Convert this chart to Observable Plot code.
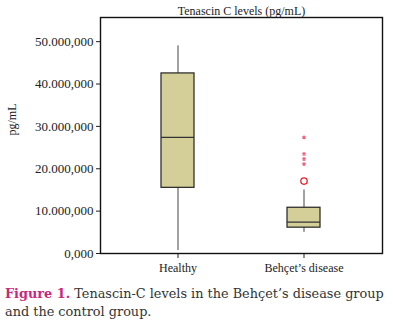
<!DOCTYPE html>
<html><head><meta charset="utf-8">
<script src="https://cdn.jsdelivr.net/npm/d3@7"></script>
<script src="https://cdn.jsdelivr.net/npm/@observablehq/plot@0.6"></script>
<style>
body{margin:0;background:#fff;}
#chart svg{display:block;}
#cap{font-family:"DejaVu Serif",serif;font-size:12.85px;line-height:18px;color:#333;margin:5px 0 0 5px;white-space:nowrap;}
#cap b{color:#c8287c;}
</style></head><body>
<div id="chart"></div>
<div id="cap"><b>Figure 1.</b> Tenascin-C levels in the Behçet’s disease group<br>and the control group.</div>
<script>
const groups = ["Healthy", "Behçet’s disease"];
const whiskerLow = [0.7e6, 5.0e6];
const q1 = [15.5e6, 6.1e6];
const median = [27.4e6, 7.4e6];
const q3 = [42.5e6, 10.8e6];
const whiskerHigh = [49.0e6, 15.0e6];
const outlierGroup = ["Behçet’s disease"];
const outlierValues = [17.1e6];
const extremeGroup = ["Behçet’s disease","Behçet’s disease","Behçet’s disease","Behçet’s disease"];
const extremeValues = [27.4e6, 23.5e6, 22.3e6, 21.1e6];
const tickValues = [0, 10e6, 20e6, 30e6, 40e6, 50e6];
const tickLabels = ["0,000","10.000,000","20.000,000","30.000,000","40.000,000","50.000,000"];

const boxes = groups.map((g,i)=>({g, lo:whiskerLow[i], q1:q1[i], med:median[i], q3:q3[i], hi:whiskerHigh[i]}));
const outliers = outlierValues.map((v,i)=>({g:outlierGroup[i], v}));
const extremes = extremeValues.map((v,i)=>({g:extremeGroup[i], v}));

const chart = Plot.plot({
  width: 393, height: 280,
  marginLeft: 100, marginRight: 11, marginTop: 17, marginBottom: 27,
  style: {fontFamily: "Liberation Serif, serif", fontSize: "13px", color: "#222"},
  x: {type: "band", domain: groups, paddingInner: 0.738, paddingOuter: 0.488, label: null},
  y: {domain: [0, 55.7e6], label: null},
  marks: [
    Plot.axisY({ticks: tickValues, tickFormat: (d)=>tickLabels[tickValues.indexOf(d)], tickSize: 4, tickPadding: 3, fontSize: 13, label: null}),
    Plot.axisX({tickSize: 5, tickPadding: 5, fontSize: 12, label: null}),
    Plot.ruleX(boxes, {x: "g", y1: "lo", y2: "q1", stroke: "#444"}),
    Plot.ruleX(boxes, {x: "g", y1: "q3", y2: "hi", stroke: "#444"}),
    Plot.barY(boxes, {x: "g", y1: "q1", y2: "q3", fill: "#d4cf99", stroke: "#222", strokeWidth: 1.2}),
    Plot.tickY(boxes, {x: "g", y: "med", stroke: "#333", strokeWidth: 1.2}),
    Plot.dot(outliers, {x: "g", y: "v", r: 3.2, stroke: "#e8202a", strokeWidth: 1.3, fill: "none"}),
    Plot.dot(extremes, {x: "g", y: "v", r: 1.8, symbol: "asterisk", stroke: "#f0607a", strokeWidth: 1.2}),
    Plot.frame({stroke: "#111", strokeWidth: 1.4}),
    Plot.text(["Tenascin C levels (pg/mL)"], {frameAnchor: "top", lineAnchor: "bottom", dy: -3, fontSize: 12, fill: "#222"}),
    Plot.text(["pg/mL"], {frameAnchor: "left", dx: -88, rotate: -90, fontSize: 12, fill: "#222"})
  ]
});
document.getElementById("chart").appendChild(chart);
</script>
</body></html>
